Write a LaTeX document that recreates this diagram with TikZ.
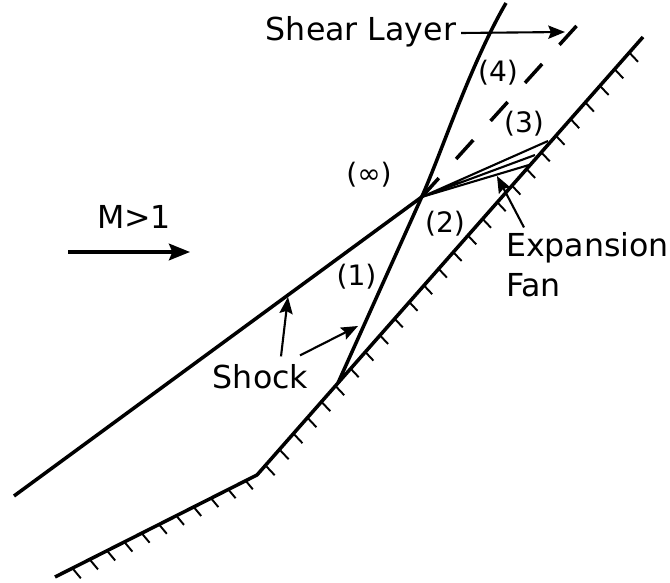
\documentclass[tikz,border=0pt]{standalone}
\usepackage{fontspec}
\setmainfont{DejaVu Sans}
\usetikzlibrary{arrows.meta,positioning,calc}

\tikzset{
    wall/.style={line width=2pt,line join=round},
    hatch/.style={line width=1.1pt},
    fan/.style={line width=1.2pt},
    pointer/.style={-{Stealth[length=9.5pt,width=7.5pt,inset=1.5pt]},line width=1.2pt},
    bigpointer/.style={-{Stealth[length=12pt,width=9.5pt,inset=2pt]},line width=1.8pt},
    label/.style={font=\fontsize{18pt}{22.7pt}\selectfont,inner sep=0pt,align=left},
    region/.style={font=\fontsize{16pt}{18pt}\selectfont,inner sep=0pt}
}

\begin{document}
\begin{tikzpicture}[x=0.2mm,y=-0.2mm]
    \useasboundingbox (0,0) rectangle (670,583);

    % wall
    \coordinate (wallstart) at (55,577);
    \coordinate (wallbend) at (257,475);
    \coordinate (shockfoot) at (338,383);
    \coordinate (wallend) at (643,37);
    \draw[wall] (wallstart) -- (wallbend) -- (shockfoot) -- (wallend);

    % hatching
    \foreach \i in {0,...,10}
        \draw[hatch] ({73.3+17.2*\i},{569.3-8.9*\i}) -- ++(7.5,9);
    \foreach \i in {0,...,5}
        \draw[hatch] ({266.7+13.9*\i},{466.7-16*\i}) -- ++(8,8.5);
    \foreach \i in {0,...,19}
        \draw[hatch] ({630-14.7*\i},{53.3+16.6*\i}) -- ++(8,8.5);

    % shocks
    \coordinate (triple) at (421.7,197);
    \coordinate (shockstart) at (14,496);
    \coordinate (shocktop) at (506,3);
    \draw[wall] (shockstart) -- (triple);
    \draw[wall] (shockfoot) -- (triple) .. controls (441,154) and (470,65) .. (shocktop);

    % shear layer
    \coordinate (shearend) at (578.3,24);
    \draw[wall,dash pattern=on 14.5pt off 14.7pt] (triple) -- (shearend);

    % expansion fan
    \coordinate (fanupper) at (548,141);
    \coordinate (fanmiddle) at (535,155);
    \coordinate (fanlower) at (529,165);
    \draw[fan] (fanupper) -- (triple) -- (fanmiddle);
    \draw[fan] (triple) -- (fanlower);

    % regions
    \node[region] (infty) at (369,175) {(∞)};
    \node[region] (one) at (356.5,277) {(1)};
    \node[region] (two) at (445,224) {(2)};
    \node[region] (three) at (524,124) {(3)};
    \node[region] (four) at (498,73) {(4)};

    % labels
    \node[label] (mach) at (134,217) {M>1};
    \node[label] (shearlabel) at (361,32) {Shear Layer};
    \node[label] (shocklabel) at (260.5,377) {Shock};
    \node[label] (fanlabel) at (587.5,265) {Expansion\\Fan};

    % pointers
    \coordinate (machtail) at (68,252);
    \coordinate (machtip) at (190,252);
    \draw[bigpointer] (machtail) -- (machtip);
    \coordinate (sheartip) at (565,32);
    \draw[pointer] (shearlabel.east) ++(4.7,1) -- (sheartip);
    \coordinate (fantip) at (497,176);
    \draw[pointer] (fanlabel.north) ++(-63.5,-5) -- (fantip);
    \coordinate (shockupper) at (288,297);
    \coordinate (shocklower) at (358,326);
    \draw[pointer] (shocklabel.north) ++(20.5,-8) -- (shockupper);
    \draw[pointer] (shocklabel.north) ++(39.5,-9) -- (shocklower);
\end{tikzpicture}
\end{document}
